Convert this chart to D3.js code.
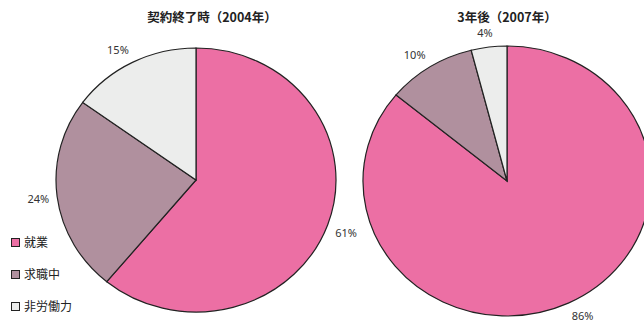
<!DOCTYPE html>
<html>
  <head>
    <meta charset="utf-8">
    <title>pie</title>
    <script type="text/javascript" src="https://cdn.jsdelivr.net/npm/d3@7"></script>
    <style type="text/css">
      body { margin: 0; background: #fff; }
      .title { font-family: "Noto Sans CJK JP", sans-serif; font-size: 12.5px; font-weight: bold; fill: #222; }
      .pct { font-family: "Noto Sans", sans-serif; font-size: 11px; fill: #333; }
      .legend text { font-family: "Noto Sans CJK JP", sans-serif; font-size: 12px; fill: #222; }
    </style>
  </head>
  <body>
    <script type="text/javascript">
      var w = 644;
      var h = 322;

      // データ
      var categories = ["就業", "求職中", "非労働力"];
      var values2004 = [61, 24, 15];
      var values2007 = [86, 10, 4];
      var titles = ["契約終了時（2004年）", "3年後（2007年）"];
      var colors = ["#ec6fa4", "#b0909e", "#ecedec"];

      var svg = d3.select("body")
                  .append("svg")
                  .attr("width", w)
                  .attr("height", h);

      var color = d3.scaleOrdinal().domain(categories).range(colors);

      var pie = d3.pie()
                  .sort(null)
                  .value(function(d) { return d.v; });

      // 円グラフの配置（少し楕円）
      var charts = [
        { values: values2004, title: titles[0], cx: 196, cy: 180, rx: 140, ry: 132, tx: 212 },
        { values: values2007, title: titles[1], cx: 507, cy: 181, rx: 144, ry: 135, tx: 507 }
      ];

      var gap = 8;

      charts.forEach(function(c) {
        var data = categories.map(function(k, i) { return { k: k, v: c.values[i] }; });
        var arcs = pie(data);
        var arc = d3.arc().innerRadius(0).outerRadius(c.rx);

        var g = svg.append("g")
                   .attr("transform", "translate(" + c.cx + "," + c.cy + ") scale(1," + (c.ry / c.rx) + ")");
        g.selectAll("path")
         .data(arcs)
         .enter()
         .append("path")
         .attr("d", arc)
         .attr("fill", function(d) { return color(d.data.k); })
         .attr("stroke", "#222")
         .attr("stroke-width", 1.2)
         .attr("vector-effect", "non-scaling-stroke");

        // ラベルは円の外側、文字の大きさ分ずらす
        svg.append("g")
           .attr("transform", "translate(" + c.cx + "," + c.cy + ")")
           .selectAll("text")
           .data(arcs)
           .enter()
           .append("text")
           .attr("class", "pct")
           .attr("text-anchor", "middle")
           .attr("dy", "0.35em")
           .text(function(d) { return d.data.v + "%"; })
           .attr("transform", function(d) {
             var a = (d.startAngle + d.endAngle) / 2;
             var dx = Math.sin(a), dy = -Math.cos(a);
             var bb = this.getBBox();
             var hw = bb.width / 2, hh = 5.5;
             var sx = Math.max(-1, Math.min(1, dx * 3));
             var sy = Math.max(-1, Math.min(1, dy * 3));
             var x = dx * c.rx + dx * gap + sx * hw;
             var y = dy * c.ry + dy * gap + sy * hh;
             return "translate(" + x + "," + y + ")";
           });

        svg.append("text")
           .attr("class", "title")
           .attr("x", c.tx)
           .attr("y", 22)
           .attr("text-anchor", "middle")
           .text(c.title);
      });

      // 凡例
      var legend = svg.append("g").attr("class", "legend");
      var ly = d3.scalePoint().domain(categories).range([243, 307]);
      var items = legend.selectAll("g")
                        .data(categories)
                        .enter()
                        .append("g")
                        .attr("transform", function(d) { return "translate(11," + ly(d) + ")"; });
      items.append("rect")
           .attr("x", 0.5)
           .attr("y", -4.5)
           .attr("width", 8)
           .attr("height", 8)
           .attr("fill", function(d) { return color(d); })
           .attr("stroke", "#222")
           .attr("stroke-width", 1);
      items.append("text")
           .attr("x", 13)
           .attr("dy", "0.35em")
           .text(function(d) { return d; });
    </script>
  </body>
</html>
